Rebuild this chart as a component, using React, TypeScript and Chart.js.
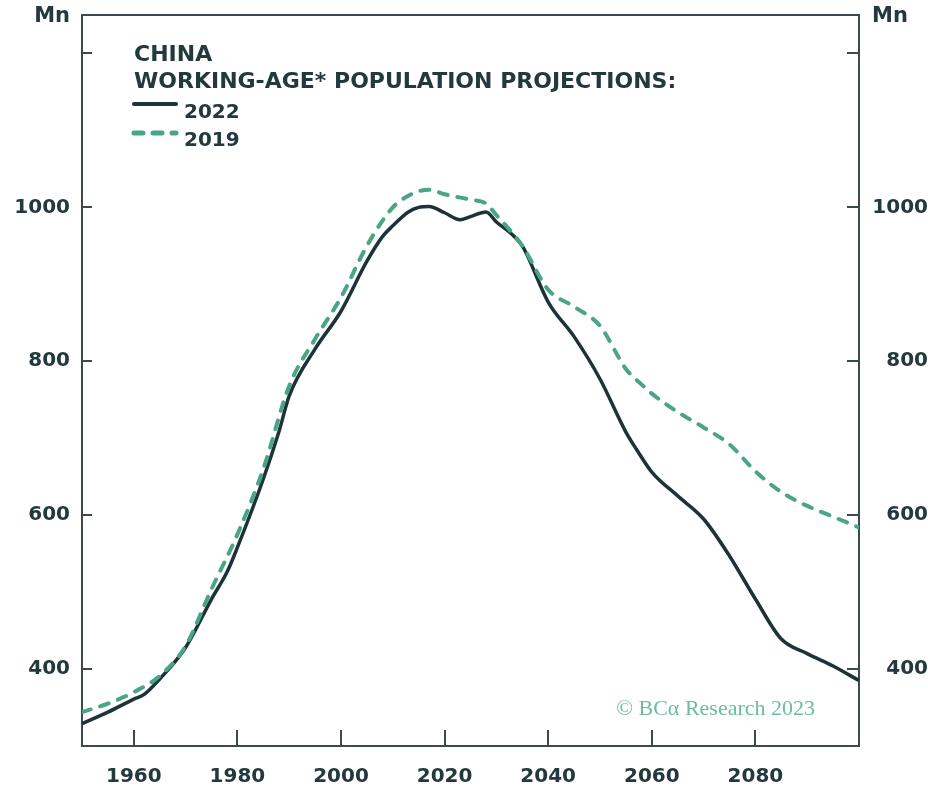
import React, { useEffect, useRef } from "react";
import { Chart, registerables } from "chart.js";

Chart.register(...registerables);

// ---- data ----
const years2022 = [1950, 1955, 1960, 1962, 1965, 1970, 1975, 1978, 1980, 1985, 1988, 1990, 1995, 2000, 2005, 2008, 2010, 2013, 2015, 2017, 2020, 2023, 2025, 2028, 2030, 2033, 2035, 2040, 2045, 2050, 2055, 2057, 2060, 2065, 2070, 2075, 2080, 2085, 2090, 2095, 2100];
const values2022 = [329, 344, 361, 367, 387, 428, 491, 526, 558, 647, 708, 755, 816, 865, 930, 962, 976, 994, 1000, 1001, 993, 984, 988, 994, 981, 965, 950, 877, 832, 777, 708, 686, 656, 625, 595, 547, 491, 439, 420, 404, 385];

const years2019 = [1950, 1955, 1960, 1965, 1970, 1975, 1980, 1985, 1990, 1995, 2000, 2005, 2010, 2013, 2015, 2017, 2020, 2025, 2028, 2030, 2035, 2040, 2045, 2050, 2055, 2058, 2060, 2065, 2070, 2075, 2080, 2085, 2090, 2095, 2100];
const values2019 = [344, 355, 370, 391, 430, 504, 575, 660, 768, 829, 883, 950, 1000, 1015, 1021, 1023, 1017, 1010, 1005, 990, 950, 893, 871, 846, 790, 770, 758, 734, 714, 692, 657, 630, 612, 598, 584];

const xTicks = [1960, 1980, 2000, 2020, 2040, 2060, 2080];
const yTicks = [400, 600, 800, 1000, 1200];
const yLabelled = [400, 600, 800, 1000];

const titleLines = ["CHINA", "WORKING-AGE* POPULATION PROJECTIONS:"];
const seriesLabels = ["2022", "2019"];
const unitLabel = "Mn";
const sourceText = "© BCα Research 2023";

const DARK = "#1c3337";
const GREEN = "#4aa584";
const AXIS = "#3b4a4f";
const TEXT = "#22393d";
const FONT = "'DejaVu Sans', sans-serif";

export default function App() {
  const ref = useRef<HTMLCanvasElement | null>(null);

  useEffect(() => {
    if (!ref.current) return;

    const decor = {
      id: "decor",
      afterDraw(chart: any) {
        const ctx = chart.ctx;
        const { left, right, top, bottom } = chart.chartArea;
        const xs = chart.scales.x;
        const ys = chart.scales.y;
        ctx.save();
        // top border
        ctx.strokeStyle = AXIS;
        ctx.lineWidth = 2;
        ctx.beginPath();
        ctx.moveTo(left - 1, top);
        ctx.lineTo(right + 1, top);
        ctx.stroke();
        // inward ticks
        ctx.beginPath();
        ys.ticks.forEach((t: any) => {
          const y = Math.round(ys.getPixelForValue(t.value));
          ctx.moveTo(left, y);
          ctx.lineTo(left + 10, y);
          ctx.moveTo(right - 12, y);
          ctx.lineTo(right, y);
        });
        xs.ticks.forEach((t: any) => {
          const x = Math.round(xs.getPixelForValue(t.value));
          ctx.moveTo(x, bottom);
          ctx.lineTo(x, bottom - 16);
        });
        ctx.stroke();

        // unit labels
        ctx.fillStyle = TEXT;
        ctx.font = `bold 21px ${FONT}`;
        ctx.textBaseline = "middle";
        ctx.textAlign = "right";
        ctx.fillText(unitLabel, 70, 17);
        ctx.textAlign = "left";
        ctx.fillText(unitLabel, 872, 17);

        // title
        ctx.font = `bold 22px ${FONT}`;
        ctx.fillText(titleLines[0], 134, 55);
        ctx.fillText(titleLines[1], 134, 82);

        // legend
        const ds = chart.data.datasets;
        const rows = [104, 133];
        const textRows = [113, 141];
        ds.forEach((d: any, i: number) => {
          ctx.beginPath();
          ctx.strokeStyle = d.borderColor;
          ctx.lineWidth = i === 0 ? 4 : 5;
          ctx.lineCap = "round";
          ctx.setLineDash(d.borderDash || []);
          ctx.moveTo(134, rows[i]);
          ctx.lineTo(176, rows[i]);
          ctx.stroke();
          ctx.setLineDash([]);
          ctx.fillStyle = TEXT;
          ctx.font = `bold 20px ${FONT}`;
          ctx.fillText(seriesLabels[i], 184, textRows[i]);
        });

        // source
        ctx.fillStyle = "#6bbd9c";
        ctx.font = `22px 'Liberation Serif', serif`;
        ctx.textAlign = "right";
        ctx.fillText(sourceText, 815, 709);
        ctx.restore();
      },
    };

    const tickFont = { family: FONT, size: 20, weight: "bold" as const };

    const chart = new Chart(ref.current, {
      type: "line",
      data: {
        datasets: [
          {
            label: seriesLabels[0],
            data: years2022.map((x, i) => ({ x, y: values2022[i] })),
            borderColor: DARK,
            borderWidth: 3.5,
            pointRadius: 0,
            cubicInterpolationMode: "monotone",
            order: 2,
          },
          {
            label: seriesLabels[1],
            data: years2019.map((x, i) => ({ x, y: values2019[i] })),
            borderColor: GREEN,
            borderWidth: 4,
            borderDash: [9, 10],
            borderCapStyle: "round",
            pointRadius: 0,
            cubicInterpolationMode: "monotone",
            order: 1,
          },
        ],
      },
      options: {
        responsive: false,
        animation: false,
        layout: { padding: { top: 15, left: 0, right: 0, bottom: 0 } },
        plugins: { legend: { display: false }, tooltip: { enabled: false } },
        scales: {
          x: {
            type: "linear",
            position: "bottom",
            min: 1950,
            max: 2100,
            grid: { display: false, drawTicks: false },
            border: { display: true, color: AXIS, width: 2 },
            ticks: {
              font: tickFont,
              color: TEXT,
              padding: 19,
              maxRotation: 0,
              callback: (v: any) => String(v),
            },
            afterBuildTicks: (s: any) => {
              s.ticks = xTicks.map((v) => ({ value: v }));
            },
            afterFit: (s: any) => {
              s.height = 42;
              s.paddingLeft = 0;
              s.paddingRight = 0;
            },
          },
          y: {
            type: "linear",
            position: "left",
            min: 300,
            max: 1250,
            grid: { display: false, drawTicks: false },
            border: { display: true, color: AXIS, width: 2 },
            ticks: {
              font: tickFont,
              color: TEXT,
              padding: 12,
              callback: (v: any) => (yLabelled.includes(v) ? String(v) : ""),
            },
            afterBuildTicks: (s: any) => {
              s.ticks = yTicks.map((v) => ({ value: v }));
            },
            afterFit: (s: any) => {
              s.width = 82;
              s.paddingTop = 0;
              s.paddingBottom = 0;
            },
          },
          y2: {
            type: "linear",
            position: "right",
            min: 300,
            max: 1250,
            grid: { display: false, drawTicks: false },
            border: { display: true, color: AXIS, width: 2 },
            ticks: {
              font: tickFont,
              color: TEXT,
              padding: 8,
              crossAlign: "far",
              callback: (v: any) => (yLabelled.includes(v) ? String(v) : ""),
            },
            afterBuildTicks: (s: any) => {
              s.ticks = yTicks.map((v) => ({ value: v }));
            },
            afterFit: (s: any) => {
              s.width = 69;
              s.paddingTop = 0;
              s.paddingBottom = 0;
            },
          },
        },
      },
      plugins: [decor],
    } as any);

    return () => chart.destroy();
  }, []);

  return (
    <div style={{ position: "fixed", left: 0, top: 0, width: 928, height: 788, background: "#fff" }}>
      <canvas ref={ref} width={928} height={788} />
    </div>
  );
}
